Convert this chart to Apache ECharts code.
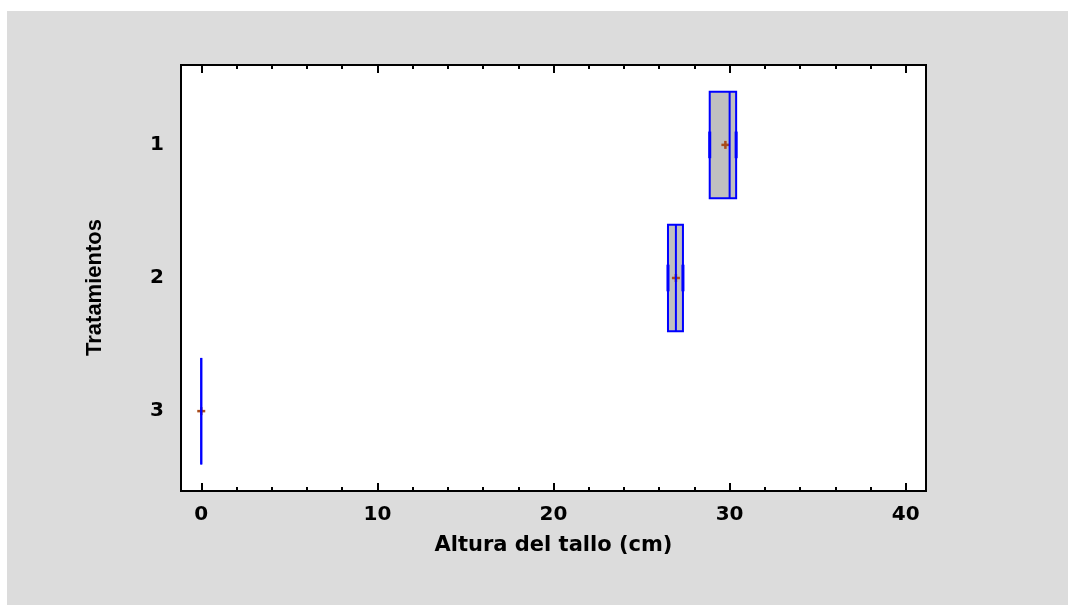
<!DOCTYPE html>
<html>
<head>
<meta charset="utf-8">
<title>Altura del tallo por tratamiento</title>
<script src="https://cdn.jsdelivr.net/npm/echarts@6/dist/echarts.min.js"></script>
<style>
  html, body { margin: 0; padding: 0; background: #ffffff; }
  #chart { position: absolute; left: 7px; top: 11px; width: 1061px; height: 594px; }
</style>
</head>
<body>
<div id="chart"></div>
<script>
// Treatment groups (plotted top to bottom)
const categories = ['1', '2', '3'];
// Box-and-whisker statistics per treatment, stem height in cm
const q1Values = [28.87, 26.5, 0];
const medianValues = [30.0, 26.95, 0];
const q3Values = [30.37, 27.35, 0];
const meanValues = [29.76, 26.95, 0];
const minValues = [28.87, 26.5, 0];
const maxValues = [30.37, 27.35, 0];
// Axis tick positions
const xMajorTicks = [0, 10, 20, 30, 40];
const xMinorTicks = [2, 4, 6, 8, 12, 14, 16, 18, 22, 24, 26, 28, 32, 34, 36, 38];
const yTicks = [1, 2, 3];

const BOX_HALF = 0.4;
const CAP_HALF = 0.1;
const BLUE = '#0000ff';
const MEAN_COLOR = '#a84c1c';
const BOX_FILL = '#c0c0c0';
const TICK_FONT = 'DejaVu Sans';

const boxData = categories.map((c, i) => [
  i + 1, q1Values[i], medianValues[i], q3Values[i], meanValues[i], minValues[i], maxValues[i]
]);

function renderBox(params, api) {
  const cat = api.value(0);
  const lo = api.value(1), med = api.value(2), hi = api.value(3);
  const mu = api.value(4), wMin = api.value(5), wMax = api.value(6);
  const tl = api.coord([lo, cat - BOX_HALF]);
  const br = api.coord([hi, cat + BOX_HALF]);
  const medTop = api.coord([med, cat - BOX_HALF]);
  const medBot = api.coord([med, cat + BOX_HALF]);
  const m = api.coord([mu, cat]);
  const arm = 4;
  const children = [];
  const rect = { x: tl[0], y: tl[1], width: br[0] - tl[0], height: br[1] - tl[1] };
  children.push({ type: 'rect', shape: rect, style: { fill: BOX_FILL, stroke: null } });
  children.push({ type: 'line', shape: { x1: m[0] - arm, y1: m[1], x2: m[0] + arm, y2: m[1] },
    style: { stroke: MEAN_COLOR, lineWidth: 2.5 } });
  children.push({ type: 'line', shape: { x1: m[0], y1: m[1] - arm, x2: m[0], y2: m[1] + arm },
    style: { stroke: MEAN_COLOR, lineWidth: 2.5 } });
  children.push({ type: 'rect', shape: rect, style: { fill: null, stroke: BLUE, lineWidth: 2 } });
  children.push({ type: 'line', shape: { x1: medTop[0], y1: medTop[1], x2: medBot[0], y2: medBot[1] },
    style: { stroke: BLUE, lineWidth: 2 } });
  // whiskers and their end caps
  const wl = api.coord([wMin, cat]), ql = api.coord([lo, cat]);
  const qh = api.coord([hi, cat]), wh = api.coord([wMax, cat]);
  children.push({ type: 'line', shape: { x1: wl[0], y1: wl[1], x2: ql[0], y2: ql[1] }, style: { stroke: BLUE, lineWidth: 2 } });
  children.push({ type: 'line', shape: { x1: qh[0], y1: qh[1], x2: wh[0], y2: wh[1] }, style: { stroke: BLUE, lineWidth: 2 } });
  if (wMax > wMin) {
    [wMin, wMax].forEach(w => {
      const a = api.coord([w, cat - CAP_HALF]), b = api.coord([w, cat + CAP_HALF]);
      children.push({ type: 'line', shape: { x1: a[0], y1: a[1], x2: b[0], y2: b[1] }, style: { stroke: BLUE, lineWidth: 3 } });
    });
  }
  return { type: 'group', children };
}

const X_MIN = -1.15, X_MAX = 41.15;
function xAxisDef(position, ticks, len, labels) {
  return {
    type: 'value', position, min: X_MIN, max: X_MAX, gridIndex: 0,
    axisLine: { show: false },
    splitLine: { show: false },
    axisTick: { show: true, inside: true, length: len, customValues: ticks,
      lineStyle: { color: '#000', width: 2 } },
    axisLabel: labels ? {
      show: true, customValues: xMajorTicks, margin: 14,
      color: '#000', fontFamily: TICK_FONT, fontWeight: 'bold', fontSize: 20
    } : { show: false }
  };
}

const bottomAxis = xAxisDef('bottom', xMajorTicks, 8, true);
bottomAxis.name = 'Altura del tallo (cm)';
bottomAxis.nameLocation = 'middle';
bottomAxis.nameGap = 44;
bottomAxis.nameTextStyle = { color: '#000', fontFamily: 'DejaVu Sans', fontWeight: 'bold', fontSize: 21 };

const chart = echarts.init(document.getElementById('chart'));
chart.setOption({
  backgroundColor: '#dcdcdc',
  animation: false,
  grid: {
    left: 174, top: 54, width: 745, height: 426,
    show: true, backgroundColor: '#ffffff', borderColor: '#000000', borderWidth: 2
  },
  xAxis: [
    bottomAxis,
    xAxisDef('bottom', xMinorTicks, 4, false),
    xAxisDef('top', xMajorTicks, 8, false),
    xAxisDef('top', xMinorTicks, 4, false)
  ],
  yAxis: {
    type: 'value', min: 0.4, max: 3.6, inverse: true,
    axisLine: { show: false }, axisTick: { show: false }, splitLine: { show: false },
    axisLabel: {
      customValues: yTicks, margin: 17,
      formatter: v => categories[Math.round(v) - 1],
      color: '#000', fontFamily: TICK_FONT, fontWeight: 'bold', fontSize: 20
    }
  },
  graphic: [{
    type: 'text', x: 88, y: 276.5, rotation: Math.PI / 2,
    style: {
      text: 'Tratamientos', fill: '#000', align: 'center', verticalAlign: 'middle',
      font: 'bold 22px "Liberation Sans", Arial, sans-serif'
    }
  }],
  series: [{
    type: 'custom', xAxisIndex: 0, yAxisIndex: 0,
    renderItem: renderBox,
    encode: { x: [1, 2, 3, 4, 5, 6], y: 0 },
    data: boxData,
    clip: false
  }]
});
</script>
</body>
</html>
